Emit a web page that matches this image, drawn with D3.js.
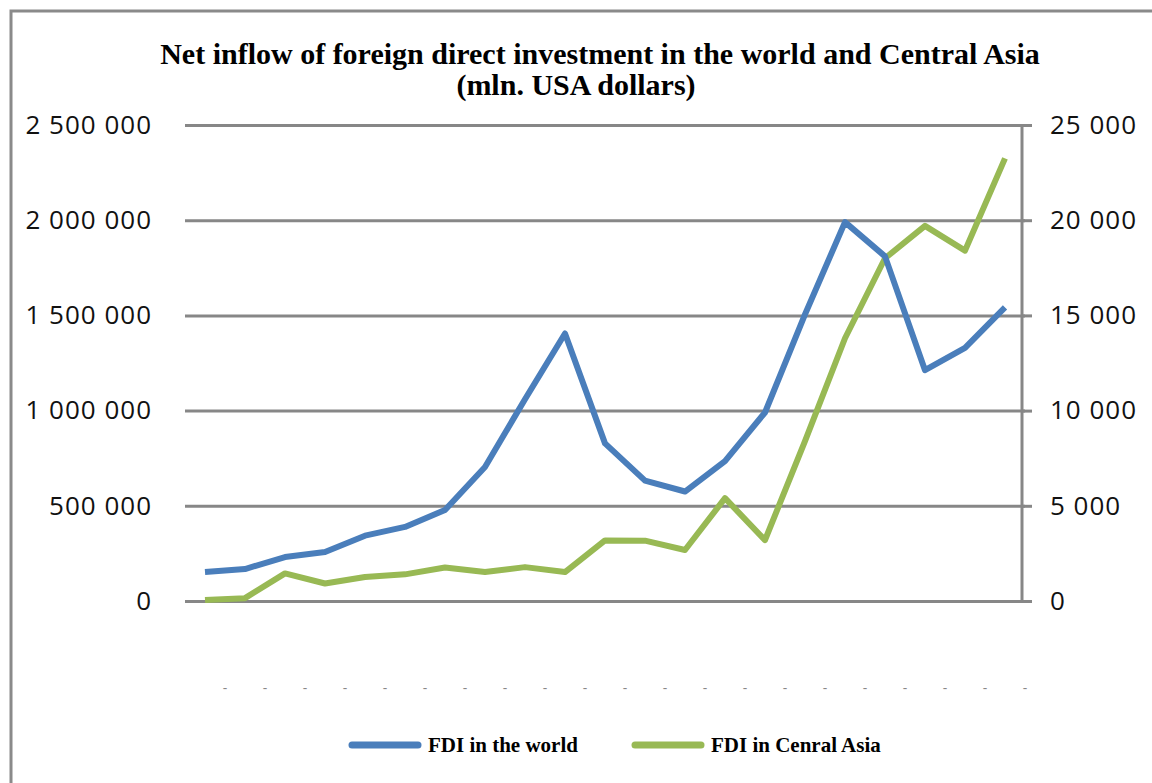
<!DOCTYPE html>
<html>
  <head>
    <script src="https://d3js.org/d3.v7.min.js"></script>
  </head>
  <body>
<svg id="svg"></svg>
<style>
body {
  margin: 0;
  background: #fff;
}
.tick-label {
  font-family: 'Open Sans', 'Liberation Sans', sans-serif;
  font-size: 26px;
  letter-spacing: 1px;
  fill: #111;
}
.serif {
  font-family: 'Liberation Serif', 'DejaVu Serif', serif;
  font-weight: bold;
  fill: #000;
}
</style>
<script type="text/javascript">
// 21 yearly observations, labels in the source are just dashes
const years = d3.range(1, 22)
const worldFDI = [152000, 168000, 231000, 257000, 343000, 389000, 478000, 704000, 1060000, 1405000,
  828000, 632000, 575000, 735000, 990000, 1505000, 1990000, 1810000, 1212000, 1330000, 1542000]
const asiaFDI = [50, 150, 1450, 920, 1260, 1400, 1760, 1520, 1780, 1520,
  3180, 3170, 2680, 5400, 3200, 8400, 13800, 18000, 19700, 18400, 23250]
const leftTicks = [0, 500000, 1000000, 1500000, 2000000, 2500000]
const rightTicks = [0, 5000, 10000, 15000, 20000, 25000]
const seriesNames = ["FDI in the world", "FDI in Cenral Asia"]
const colors = ["#4a7ebb", "#98b954"]

const width = 1152, height = 783
const m = {left: 185, right: 1025, top: 125, bottom: 601}

const svg = d3.select("#svg").attr("width", width).attr("height", height)

// outer frame
svg.append("rect")
  .attr("x", 11).attr("y", 11)
  .attr("width", width).attr("height", height)
  .attr("fill", "none").attr("stroke", "#8a8a8a").attr("stroke-width", 3)

const x = d3.scaleBand().domain(years).range([m.left, m.right])
const yL = d3.scaleLinear().domain([0, 2500000]).range([m.bottom, m.top])
const yR = d3.scaleLinear().domain([0, 25000]).range([m.bottom, m.top])
const fmt = d => d3.format(",")(d).replace(/,/g, " ")

// gridlines + left labels
const gl = svg.append("g").attr("transform", `translate(${m.left},0)`)
  .call(d3.axisLeft(yL).tickValues(leftTicks).tickSize(-(m.right - m.left)).tickFormat(fmt).tickPadding(33))
gl.select(".domain").remove()
gl.selectAll(".tick line").attr("stroke", "#878787").attr("stroke-width", 3)
gl.selectAll(".tick text").attr("class", "tick-label")

// right axis
const gr = svg.append("g").attr("transform", `translate(${m.right - 3},0)`)
  .call(d3.axisRight(yR).tickValues(rightTicks).tickSize(10).tickFormat(fmt).tickPadding(18))
gr.select(".domain").attr("stroke", "#878787").attr("stroke-width", 3).attr("d", `M0,${m.top}V${m.bottom}`)
gr.selectAll(".tick line").attr("stroke", "#878787").attr("stroke-width", 3)
gr.selectAll(".tick text").attr("class", "tick-label")

// category labels (dashes)
svg.append("g").selectAll("text").data(years).enter().append("text")
  .attr("x", d => x(d) + x.bandwidth())
  .attr("y", 693)
  .attr("text-anchor", "middle")
  .attr("fill", "#888")
  .style("font-family", "'Open Sans', sans-serif")
  .style("font-size", "14px")
  .text("-")

// lines
const lineL = d3.line().x((d, i) => x(years[i]) + x.bandwidth() / 2).y(d => yL(d))
const lineR = d3.line().x((d, i) => x(years[i]) + x.bandwidth() / 2).y(d => yR(d))
svg.append("path").attr("d", lineR(asiaFDI))
  .attr("fill", "none").attr("stroke", colors[1]).attr("stroke-width", 6).attr("stroke-linejoin", "round")
svg.append("path").attr("d", lineL(worldFDI))
  .attr("fill", "none").attr("stroke", colors[0]).attr("stroke-width", 6).attr("stroke-linejoin", "round")

// title
svg.append("text").attr("class", "serif").attr("x", 600).attr("y", 64)
  .attr("text-anchor", "middle").style("font-size", "30px")
  .text("Net inflow of foreign direct investment in the world and Central Asia")
svg.append("text").attr("class", "serif").attr("x", 576).attr("y", 95)
  .attr("text-anchor", "middle").style("font-size", "30px")
  .text("(mln. USA dollars)")

// legend
const legX = [352, 635]
seriesNames.forEach((name, i) => {
  svg.append("line").attr("x1", legX[i]).attr("x2", legX[i] + 66).attr("y1", 745).attr("y2", 745)
    .attr("stroke", colors[i]).attr("stroke-width", 7).attr("stroke-linecap", "round")
  svg.append("text").attr("class", "serif").attr("x", legX[i] + 76).attr("y", 752)
    .style("font-size", "21px").text(name)
})
</script>
</body>
</html>
